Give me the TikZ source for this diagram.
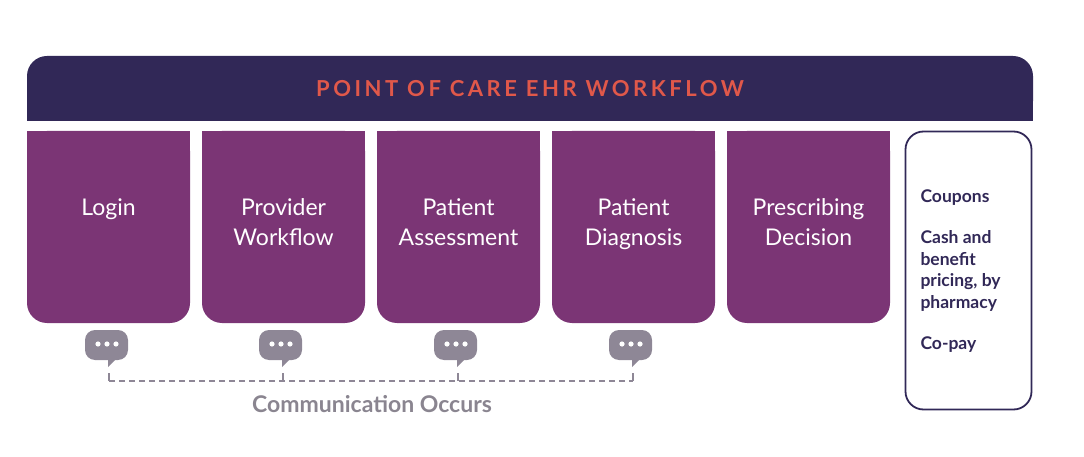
\documentclass[tikz,border=0pt]{standalone}
\usepackage{fontspec}
\setmainfont{Lato}
\newfontfamily\spaced[LetterSpace=16]{Lato}
\begin{document}
\begin{tikzpicture}[x=1pt,y=-1pt,
  steptxt/.style={text=white,font=\fontsize{23}{30}\selectfont,align=center,anchor=north},
]
\definecolor{navy}{HTML}{312857}
\definecolor{stepc}{HTML}{7B3575}
\definecolor{bubc}{HTML}{8E8796}
\definecolor{coral}{HTML}{E0584A}
\definecolor{greyt}{HTML}{8A8590}
\useasboundingbox (0,0) rectangle (1084,457);
% header
\fill[navy,rounded corners=20pt] (27,56) rectangle (1033,121);
\fill[navy] (27,90) rectangle (1033,121);
\node[text=coral,font=\spaced\bfseries\fontsize{22}{24}\selectfont] (hdr) at (530,89) {POINT OF CARE EHR WORKFLOW};
% steps
\foreach \n/\x/\t in {login/27/Login, prov/202/Provider\\Workflow, assess/377/Patient\\Assessment, diag/552/Patient\\Diagnosis, presc/727/Prescribing\\Decision}{
  \fill[stepc,rounded corners=20pt] (\x,131) rectangle (\x+163,323);
  \fill[stepc] (\x,131) rectangle (\x+163,200);
  \node[steptxt] (\n) at (\x+81.5,195) {\t};
}
% right box
\node[draw=navy,line width=1.8pt,rounded corners=18pt,minimum width=126pt,minimum height=278pt,inner sep=0pt] (info) at (968.5,270.5) {};
\node[text=navy,font=\bfseries\fontsize{17.5}{21.5}\selectfont,align=left,anchor=north west] (infotxt) at (917,186) {Coupons\\[20pt]Cash and\\benefit\\pricing, by\\pharmacy\\[20pt]Co-pay};
% bubbles
\foreach \n/\c in {b1/107,b2/281,b3/456,b4/631}{
  \fill[bubc,rounded corners=10pt] (\c-22,330) rectangle (\c+21,360);
  \fill[bubc] (\c+1,352) -- (\c+1,367) -- (\c+14,354) -- cycle;
  \foreach \d in {-9,0,9} \fill[white] (\c+\d,344) circle (2.6);
  \coordinate (\n) at (\c+2,373);
  \coordinate (\n d) at (\c+2,381);
  \draw[bubc,line width=1.2pt] (\n) -- (\n d);
}
\draw[bubc,line width=1.2pt,dash pattern=on 6pt off 4pt] (b1d) -- (b2d) -- (b3d) -- (b4d);
\node[text=greyt,font=\bfseries\fontsize{23}{27}\selectfont] (comm) at (372,404) {Communication Occurs};
\end{tikzpicture}
\end{document}
